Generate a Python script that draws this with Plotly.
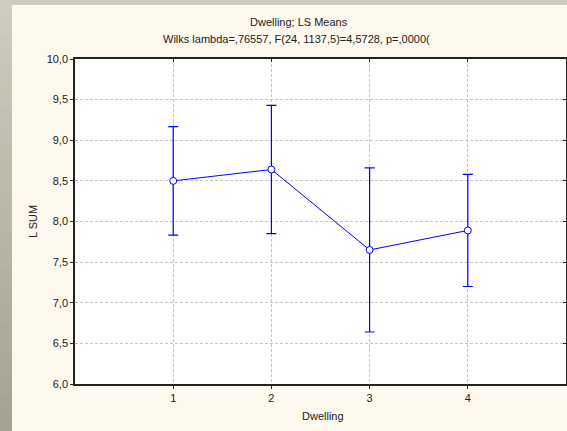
import plotly.graph_objects as go

categories = [1, 2, 3, 4]
means = [8.50, 8.64, 7.65, 7.89]
ci_half = [0.667, 0.79, 1.01, 0.69]
y_ticks = [6.0, 6.5, 7.0, 7.5, 8.0, 8.5, 9.0, 9.5, 10.0]
x_ticks = [1, 2, 3, 4]
title_line1 = "Dwelling; LS Means"
title_line2 = "Wilks lambda=,76557, F(24, 1137,5)=4,5728, p=,0000("

W, H = 567, 431
L, R, T, B = 75, 566, 59, 384
PW, PH = R - L, B - T

def px(x):
    return (x - L) / PW

def py(y):
    return (B - y) / PH

font = "Liberation Sans, Arial, sans-serif"
blue = "#0000ff"

fig = go.Figure()
fig.add_trace(go.Scatter(
    x=categories, y=means, mode="lines+markers",
    line=dict(color=blue, width=1),
    marker=dict(symbol="circle", size=7, color="white", line=dict(color=blue, width=1)),
    error_y=dict(type="data", array=ci_half, visible=True, color=blue, thickness=1.2, width=5),
    showlegend=False, cliponaxis=False,
))
# dummy trace for mirrored inside ticks
fig.add_trace(go.Scatter(x=[0, 5], y=[6, 10], xaxis="x2", yaxis="y2", mode="markers",
                         marker=dict(opacity=0), showlegend=False, hoverinfo="skip"))

shapes = []
top_c = (0xcf, 0xcb, 0xbe)
bot_c = (0xa6, 0xa3, 0x94)
n = 24
for i in range(n):
    t = i / (n - 1)
    c = tuple(int(top_c[k] + (bot_c[k] - top_c[k]) * t) for k in range(3))
    y0 = i * H / n
    y1 = (i + 1) * H / n + 1
    shapes.append(dict(type="rect", xref="paper", yref="paper", layer="below",
                       x0=px(0), x1=px(12), y0=py(y1), y1=py(y0),
                       fillcolor="rgb(%d,%d,%d)" % c, line=dict(width=0)))
shapes.append(dict(type="rect", xref="paper", yref="paper", layer="below",
                   x0=px(12), x1=px(W), y0=py(5), y1=py(0),
                   fillcolor="#cdc9bc", line=dict(width=0)))
shapes.append(dict(type="rect", xref="paper", yref="paper", layer="below",
                   x0=px(12), x1=px(W), y0=py(H), y1=py(5),
                   fillcolor="#fdf9ef", line=dict(width=0)))
shapes.append(dict(type="rect", xref="paper", yref="paper", layer="below",
                   x0=0, x1=1, y0=0, y1=1,
                   fillcolor="white", line=dict(width=0)))

tf = dict(family=font, size=11, color="#222")
annotations = [
    dict(text=title_line1, xref="paper", yref="paper", x=px(299), y=py(22),
         showarrow=False, font=tf, xanchor="center", yanchor="middle"),
    dict(text=title_line2, xref="paper", yref="paper", x=px(296), y=py(39),
         showarrow=False, font=tf, xanchor="center", yanchor="middle"),
    dict(text="Dwelling", xref="paper", yref="paper", x=px(323), y=py(416),
         showarrow=False, font=tf, xanchor="center", yanchor="middle"),
    dict(text="L SUM", xref="paper", yref="paper", x=px(33), y=py(222), textangle=-90,
         showarrow=False, font=tf, xanchor="center", yanchor="middle"),
]

fig.update_layout(
    width=W, height=H,
    margin=dict(l=L, r=W - R, t=T, b=H - B, pad=0),
    paper_bgcolor="#c6c3b5", plot_bgcolor="rgba(0,0,0,0)",
    separators=", ",
    shapes=shapes, annotations=annotations,
    xaxis=dict(range=[0, 5], tickvals=x_ticks, ticks="outside", ticklen=3, tickcolor="#222",
               showgrid=True, gridcolor="#c4c4c4", griddash="3px,2px", gridwidth=1,
               showline=True, linecolor="#222", linewidth=1.5, zeroline=False,
               tickfont=tf),
    yaxis=dict(range=[6, 10], tickvals=y_ticks, tickformat=".1f", ticks="outside", ticklen=3, tickcolor="#222",
               showgrid=True, gridcolor="#c4c4c4", griddash="3px,2px", gridwidth=1,
               showline=True, linecolor="#222", linewidth=1.5, zeroline=False,
               tickfont=tf),
    xaxis2=dict(range=[0, 5], overlaying="x", side="top", tickvals=x_ticks, ticks="inside", ticklen=3,
                tickcolor="#222", showticklabels=False, showgrid=False, showline=True,
                linecolor="#222", linewidth=1.5, zeroline=False),
    yaxis2=dict(range=[6, 10], overlaying="y", side="right", tickvals=y_ticks, ticks="inside", ticklen=3,
                tickcolor="#222", showticklabels=False, showgrid=False, showline=True,
                linecolor="#222", linewidth=1.5, zeroline=False, anchor="x2"),
)

fig.write_html("out.html", config={"displayModeBar": False},
               post_script="document.body.style.margin='0';document.body.style.padding='0';")
